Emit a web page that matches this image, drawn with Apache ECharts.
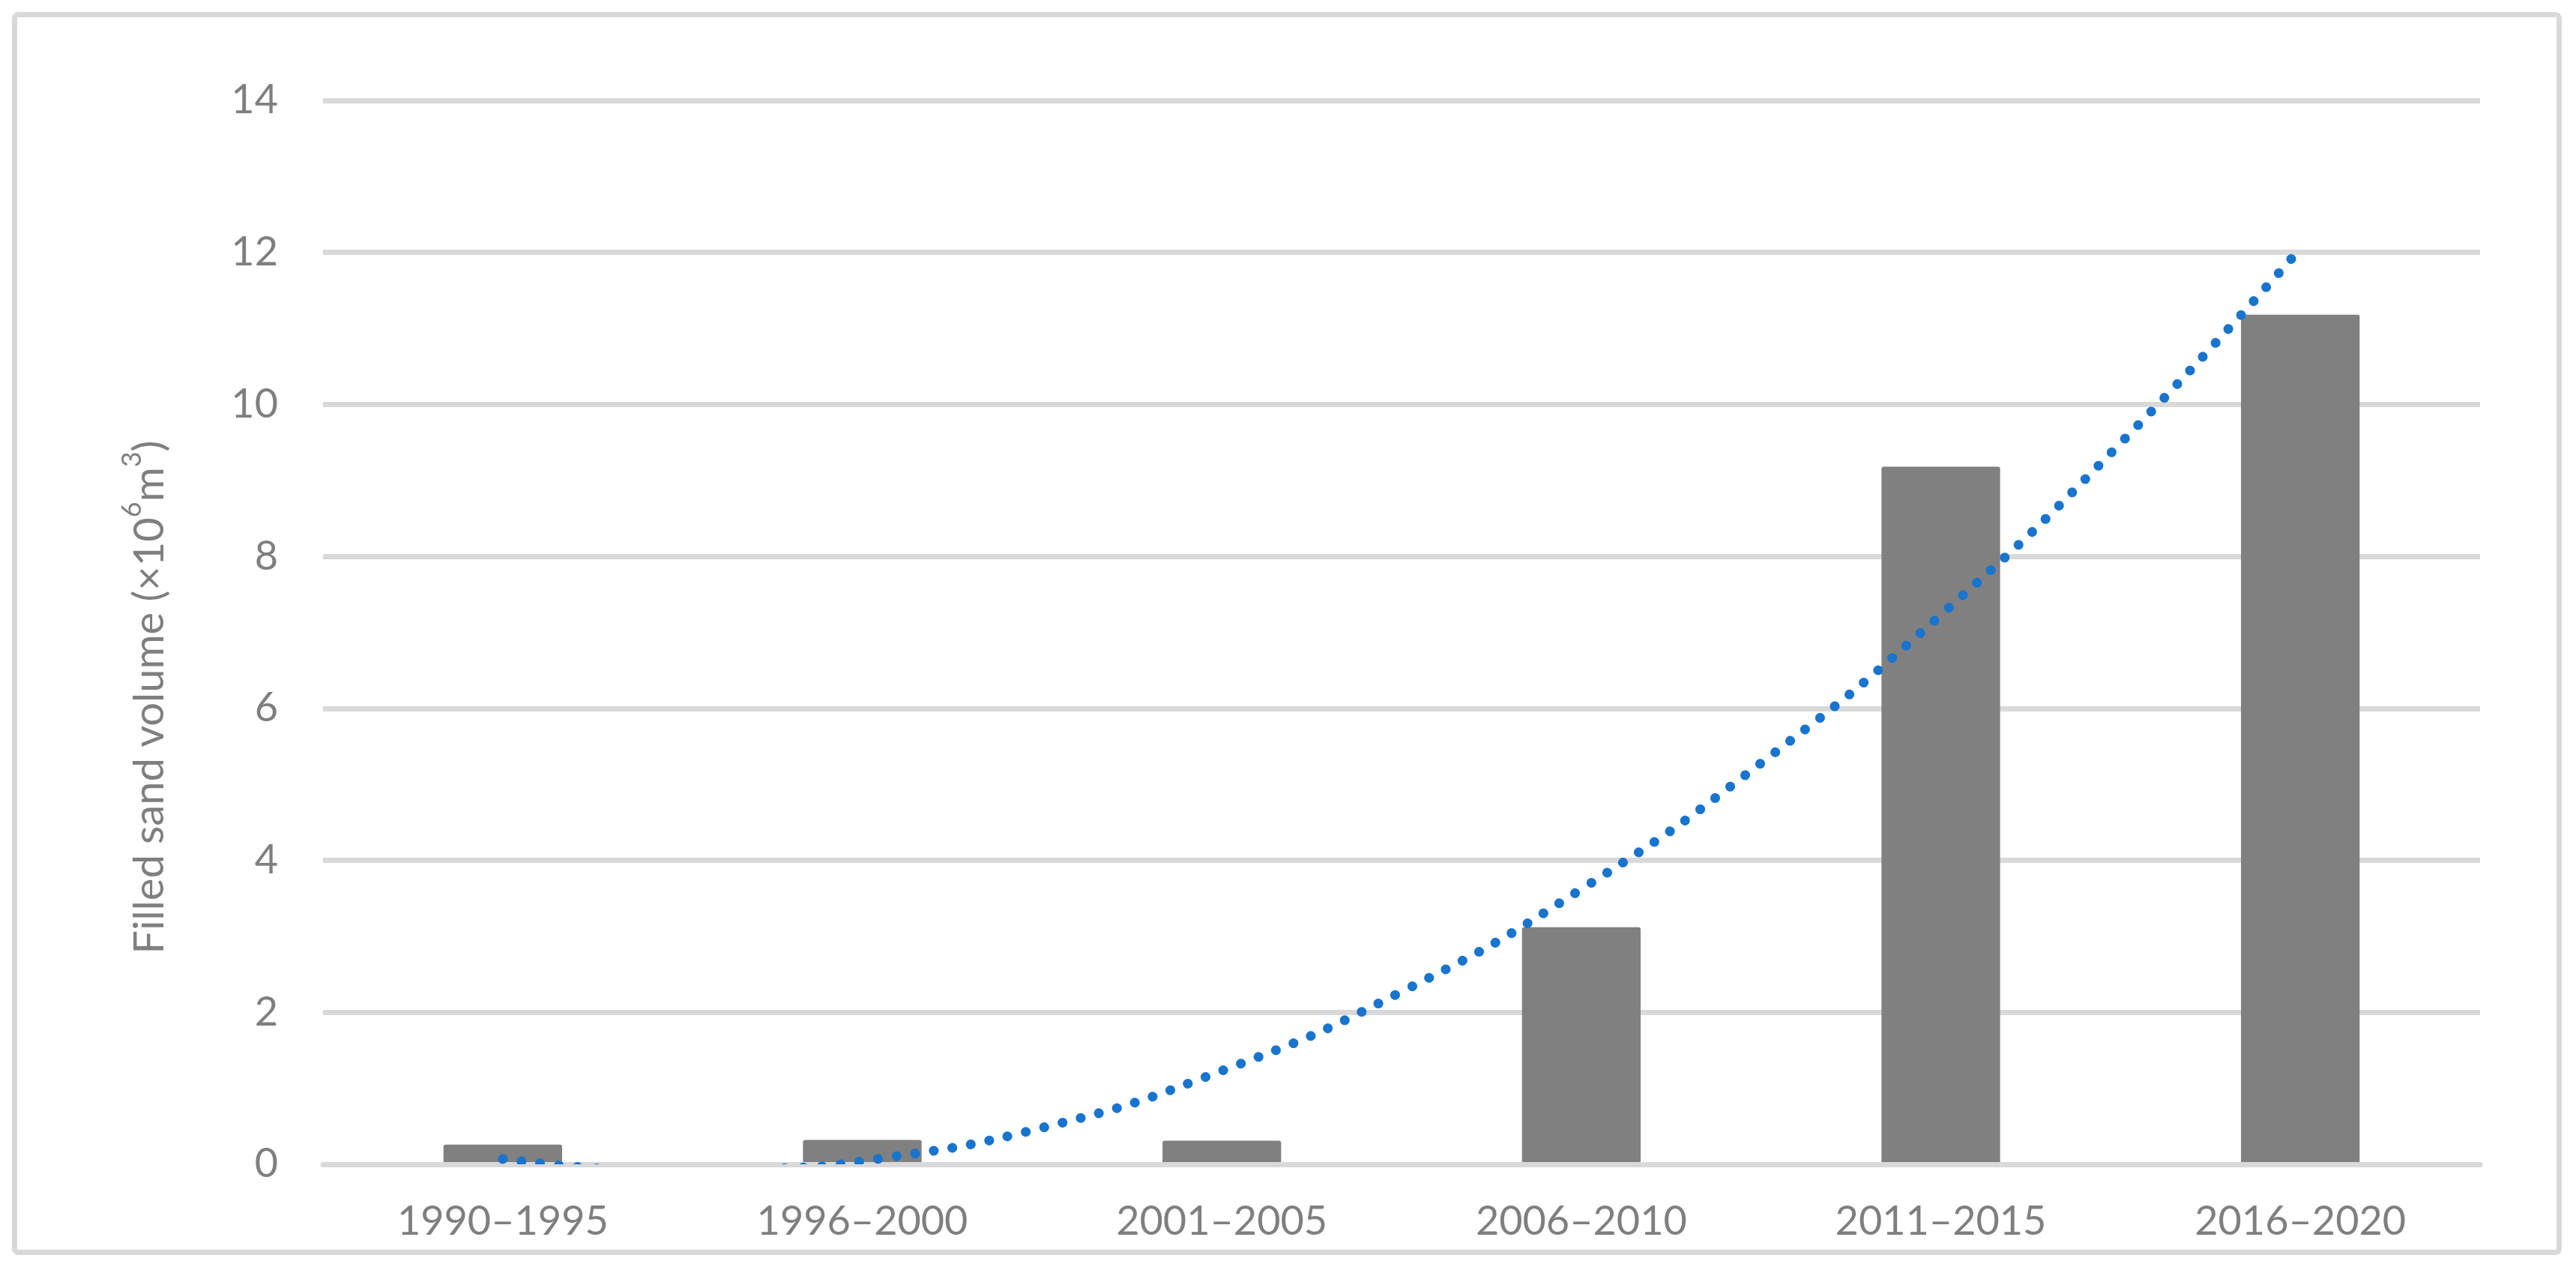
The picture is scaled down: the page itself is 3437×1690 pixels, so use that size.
<!DOCTYPE html>
<html>
<head>
<meta charset="utf-8">
<script src="https://cdn.jsdelivr.net/npm/echarts@6/dist/echarts.min.js"></script>
<style>
html,body{margin:0;padding:0;background:#fff;}
#chart{width:3437px;height:1690px;}
</style>
</head>
<body>
<div id="chart"></div>
<script>
// Data
const categories = ['1990–1995', '1996–2000', '2001–2005', '2006–2010', '2011–2015', '2016–2020'];
const sandVolume = [0.26, 0.32, 0.31, 3.12, 9.18, 11.18];
// dotted trend curve at category positions (1 = first category)
const trendX = [1, 1.25, 1.5, 1.75, 2, 2.5, 3, 3.5, 4, 4.5, 5, 5.5, 6];
const trendY = [0.07, -0.05, -0.09, -0.06, 0.04, 0.48, 1.23, 2.27, 3.62, 5.28, 7.23, 9.49, 12.05];
const yTicks = {min: 0, max: 14, interval: 2};

const trendData = trendX.map((x, i) => [x, trendY[i]]);
const textColor = '#7f7f7f';
const gridColor = '#d9d9d9';
const font = 'Lato, "Open Sans", sans-serif';

// plot area
const G = {left: 431, right: 128, top: 134, bottom: 137};
const plotH = 1690 - G.top - G.bottom;
const trendWidth = 13;
// ECharts widens a line's clip box by half the line width; the trend lives in an
// inner grid that is smaller by that amount so its clip matches the plot area.
const pad = trendWidth / 2;
const padVal = pad * (yTicks.max - yTicks.min) / plotH;

const chart = echarts.init(document.getElementById('chart'), null, {renderer: 'canvas'});
chart.setOption({
  animation: false,
  backgroundColor: '#fff',
  grid: [
    {left: G.left, right: G.right, top: G.top, bottom: G.bottom, containLabel: false},
    {left: G.left, right: G.right, top: G.top + pad, bottom: G.bottom + pad, containLabel: false}
  ],
  xAxis: [{
    type: 'category',
    gridIndex: 0,
    data: categories,
    boundaryGap: true,
    z: 3,
    axisLine: {show: true, lineStyle: {color: gridColor, width: 7}},
    axisTick: {show: false},
    axisLabel: {color: textColor, fontFamily: font, fontSize: 54, margin: 50}
  }, {
    type: 'value',
    gridIndex: 1,
    min: 0.5, max: 6.5,
    show: false
  }],
  yAxis: [{
    type: 'value',
    gridIndex: 0,
    min: yTicks.min, max: yTicks.max, interval: yTicks.interval,
    axisLine: {show: false},
    axisTick: {show: false},
    splitLine: {lineStyle: {color: gridColor, width: 7}},
    axisLabel: {color: textColor, fontFamily: font, fontSize: 54, margin: 60}
  }, {
    type: 'value',
    gridIndex: 1,
    min: yTicks.min + padVal, max: yTicks.max - padVal,
    show: false
  }],
  graphic: [{
    type: 'rect',
    shape: {x: 19.5, y: 19.5, width: 3395, height: 1651, r: 5},
    style: {fill: null, stroke: gridColor, lineWidth: 7},
    silent: true
  }, {
    type: 'text',
    x: 193, y: 930,
    rotation: Math.PI / 2,
    style: {
      text: '{a|Filled sand volume (×10}{s|6}{a|m}{s|3}{a|)}',
      fill: textColor,
      textAlign: 'center',
      textVerticalAlign: 'middle',
      rich: {
        a: {fontFamily: font, fontSize: 56, fill: textColor, verticalAlign: 'bottom', lineHeight: 70},
        s: {fontFamily: font, fontSize: 36, fill: textColor, verticalAlign: 'top', lineHeight: 70}
      }
    }
  }],
  series: [{
    type: 'bar',
    xAxisIndex: 0, yAxisIndex: 0,
    data: sandVolume,
    barWidth: '33%',
    z: 2,
    itemStyle: {color: '#808080', borderRadius: [3, 3, 0, 0]}
  }, {
    type: 'line',
    xAxisIndex: 1, yAxisIndex: 1,
    data: trendData,
    smooth: true,
    showSymbol: false,
    clip: true,
    z: 4,
    lineStyle: {color: '#1874cd', width: trendWidth, type: [0.1, 25], cap: 'round'}
  }]
});
</script>
</body>
</html>
